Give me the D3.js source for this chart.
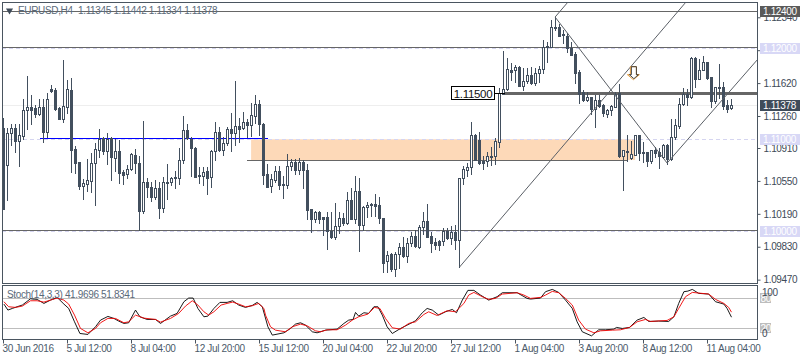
<!DOCTYPE html>
<html>
<head>
<meta charset="utf-8">
<script src="https://cdn.jsdelivr.net/npm/d3@7"></script>
<style>
html, body { margin: 0; padding: 0; background: #fff; overflow: hidden; }
text { font-family: "Liberation Sans", sans-serif; font-size: 10px; letter-spacing: -0.35px; }
</style>
</head>
<body>
<script>
//Candle values, one entry per H4 bar

const opens = [
1.11123,1.10718,1.11068,1.11123,1.10980,1.11035,1.11320,1.11352,1.11341,1.11276,
1.11352,1.11079,1.11549,1.11538,1.11341,1.11221,1.11352,1.11538,1.10893,1.10751,
1.10488,1.10510,1.10543,1.10740,1.10882,1.11013,1.10871,1.11013,1.10794,1.10871,
1.10641,1.10619,1.10674,1.10827,1.10740,1.10215,1.10532,1.10477,1.10368,1.10466,
1.10247,1.10521,1.10532,1.10587,1.10576,1.10773,1.11101,1.11002,1.10904,1.10609,
1.10598,1.10652,1.10587,1.10871,1.11079,1.10882,1.10958,1.11112,1.11068,1.11145,
1.11123,1.11188,1.11155,1.11254,1.11385,1.11166,1.10619,1.10488,1.10554,1.10652,
1.10499,1.10499,1.10707,1.10751,1.10663,1.10751,1.10663,1.10236,1.10127,1.10204,
1.10149,1.10149,1.09996,1.09930,1.10051,1.10138,1.10083,1.10335,1.10127,1.10433,
1.10062,1.10258,1.10280,1.10291,1.10280,1.10138,1.09668,1.09744,1.09580,1.09744,
1.09821,1.09722,1.09865,1.09941,1.09821,1.10040,1.10105,1.09941,1.09876,1.09887,
1.09887,1.09996,1.09919,1.09985,1.09898,1.10576,1.10663,1.10696,1.11046,1.10991,
1.10762,1.10762,1.10805,1.10816,1.10969,1.11495,1.11549,1.11757,1.11757,1.11790,
1.11582,1.11637,1.11703,1.11615,1.11724,1.11768,1.12009,1.12009,1.12217,1.12228,
1.12151,1.12129,1.11998,1.11932,1.11735,1.11516,1.11429,1.11462,1.11330,1.11429,
1.11374,1.11276,1.11320,1.11352,1.11506,1.10816,1.10871,1.10794,1.10827,1.11046,
1.10860,1.10860,1.10762,1.10882,1.10860,1.10805,1.10937,1.10784,1.11024,1.11145,
1.11385,1.11495,1.11462,1.11888,1.11659,1.11757,1.11845,1.11681,1.11418,1.11571,
1.11571,1.11374,1.11345];
const highs = [
1.11232,1.11123,1.11166,1.11166,1.11166,1.11440,1.11692,1.11484,1.11374,1.11440,
1.11440,1.11506,1.11593,1.11560,1.11352,1.11867,1.11648,1.11670,1.10926,1.10751,
1.10565,1.10784,1.10849,1.10958,1.11112,1.11024,1.11068,1.11024,1.11002,1.10991,
1.10663,1.10718,1.10849,1.10893,1.10816,1.11199,1.10576,1.10532,1.10554,1.10532,
1.10587,1.10729,1.10587,1.10652,1.10904,1.11254,1.11166,1.11024,1.10915,1.10696,
1.10696,1.10696,1.10882,1.11188,1.11134,1.11024,1.11134,1.11287,1.11637,1.11232,
1.11298,1.11221,1.11396,1.11484,1.11429,1.11177,1.10729,1.10619,1.10707,1.10707,
1.10598,1.10838,1.10784,1.10784,1.10794,1.10773,1.10729,1.10236,1.10215,1.10215,
1.10149,1.10204,1.10204,1.10302,1.10204,1.10193,1.10423,1.10466,1.10598,1.10576,
1.10269,1.10313,1.10302,1.10401,1.10368,1.10138,1.09777,1.09755,1.09766,1.09865,
1.09930,1.09919,1.09985,1.10007,1.10062,1.10204,1.10291,1.09985,1.09919,1.09898,
1.10029,1.10029,1.10051,1.10062,1.10576,1.10707,1.10740,1.11188,1.11057,1.11079,
1.10816,1.10860,1.10915,1.11013,1.11560,1.11965,1.11888,1.11834,1.11812,1.11801,
1.11779,1.11779,1.11790,1.11779,1.11801,1.12085,1.12063,1.12304,1.12337,1.12260,
1.12195,1.12162,1.12063,1.11954,1.11757,1.11538,1.11516,1.11462,1.11484,1.11484,
1.11385,1.11330,1.11374,1.11516,1.11604,1.10882,1.11046,1.10980,1.11046,1.11046,
1.10969,1.10860,1.10882,1.10915,1.10904,1.10948,1.10948,1.11221,1.11221,1.11451,
1.11560,1.11549,1.11899,1.11899,1.11877,1.11910,1.11845,1.11681,1.11571,1.11823,
1.11626,1.11429,1.11442];
const lows = [
1.10236,1.10335,1.10937,1.10860,1.10707,1.11002,1.11112,1.11166,1.11243,1.11265,
1.10969,1.11024,1.11516,1.11320,1.11221,1.11188,1.11287,1.10641,1.10630,1.10455,
1.10346,1.10433,1.10423,1.10280,1.10805,1.10838,1.10729,1.10554,1.10652,1.10521,
1.10510,1.10576,1.10663,1.10630,1.10007,1.10193,1.10368,1.10324,1.10346,1.10138,
1.10204,1.10346,1.10499,1.10466,1.10510,1.10740,1.11002,1.10598,1.10587,1.10521,
1.10499,1.10401,1.10477,1.10773,1.10871,1.10827,1.10937,1.10871,1.10937,1.10969,
1.11112,1.11024,1.11035,1.11177,1.11046,1.10510,1.10477,1.10423,1.10532,1.10455,
1.10357,1.10466,1.10663,1.10619,1.10619,1.10466,1.10127,1.09985,1.10094,1.10083,
1.09952,1.09799,1.09919,1.09908,1.09974,1.10062,1.10072,1.10127,1.10083,1.09777,
1.10007,1.10149,1.10160,1.10160,1.10083,1.09547,1.09547,1.09558,1.09504,1.09591,
1.09712,1.09657,1.09832,1.09821,1.09810,1.09963,1.09930,1.09766,1.09799,1.09788,
1.09843,1.09908,1.09854,1.09799,1.09602,1.10510,1.10598,1.10619,1.10773,1.10729,
1.10674,1.10707,1.10718,1.10729,1.10915,1.11495,1.11538,1.11648,1.11626,1.11582,
1.11538,1.11615,1.11604,1.11593,1.11626,1.11724,1.11845,1.12009,1.12195,1.12129,
1.12053,1.11954,1.11921,1.11615,1.11396,1.11418,1.11418,1.11276,1.11134,1.11352,
1.11254,1.11243,1.11265,1.11352,1.10805,1.10444,1.10762,1.10784,1.10827,1.10773,
1.10751,1.10707,1.10740,1.10805,1.10685,1.10794,1.10729,1.10773,1.11002,1.11123,
1.11374,1.11374,1.11451,1.11571,1.11659,1.11757,1.11659,1.11352,1.11396,1.11451,
1.11330,1.11298,1.11334];
const closes = [
1.10236,1.11068,1.11123,1.10980,1.11046,1.11320,1.11352,1.11320,1.11276,1.11352,
1.11079,1.11440,1.11527,1.11330,1.11221,1.11363,1.11549,1.10882,1.10740,1.10488,
1.10521,1.10554,1.10740,1.10893,1.11002,1.10871,1.11002,1.10805,1.10871,1.10630,
1.10609,1.10674,1.10838,1.10740,1.10215,1.10532,1.10477,1.10368,1.10466,1.10247,
1.10532,1.10532,1.10576,1.10576,1.10773,1.11101,1.11013,1.10904,1.10587,1.10598,
1.10641,1.10576,1.10871,1.11079,1.10882,1.10958,1.11112,1.11068,1.11145,1.11112,
1.11188,1.11155,1.11265,1.11385,1.11166,1.10609,1.10477,1.10565,1.10652,1.10499,
1.10510,1.10707,1.10751,1.10663,1.10751,1.10663,1.10226,1.10127,1.10204,1.10127,
1.10127,1.09996,1.09930,1.10051,1.10138,1.10083,1.10335,1.10127,1.10433,1.10062,
1.10258,1.10280,1.10291,1.10269,1.10138,1.09646,1.09733,1.09580,1.09744,1.09821,
1.09722,1.09865,1.09941,1.09832,1.10040,1.10105,1.09930,1.09865,1.09843,1.09843,
1.09996,1.09919,1.09985,1.09898,1.10576,1.10674,1.10696,1.11046,1.10773,1.10740,
1.10740,1.10816,1.10816,1.10980,1.11506,1.11549,1.11768,1.11735,1.11790,1.11582,
1.11637,1.11703,1.11615,1.11724,1.11768,1.12009,1.12020,1.12228,1.12228,1.12129,
1.12140,1.11998,1.11921,1.11724,1.11495,1.11429,1.11462,1.11330,1.11429,1.11363,
1.11287,1.11320,1.11363,1.11495,1.10816,1.10882,1.10860,1.10838,1.11046,1.10849,
1.10849,1.10762,1.10882,1.10849,1.10816,1.10937,1.10784,1.11024,1.11155,1.11385,
1.11495,1.11462,1.11888,1.11659,1.11757,1.11845,1.11670,1.11418,1.11571,1.11560,
1.11363,1.11330,1.11378];

//Stochastic readings, bar position and value of each point

const kBars = [0.1,1.1,2.2,3.4,4.7,6.75,8.4,10.1,11.75,13.4,15.1,16.3,17.75,19.1,21.1,23,24.25,26.1,27.6,28.8,30.1,31.3,33,34.1,35.9,38,39.25,41.75,43.4,45.1,46.3,47.4,48.6,50.1,51.1,52.6,54.1,55.9,57.3,58.8,60.5,62.2,63.4,64.7,66.1,67.2,70.1,71.75,73,74.25,75.5,77.2,78.4,80.5,83.4,85.1,86.3,87.4,88,88.8,90.1,91.3,92.6,93.6,94.7,95.9,97.2,99.25,100.9,103,104.7,105.9,107.2,108.8,110.5,112.2,113.25,114.7,116.1,117.6,119.25,121.3,123.4,124.7,128.4,130.9,131.75,134.25,135.5,137.2,138.8,140.5,142.2,143.4,144.7,147,148.8,150.5,152.6,153.25,154.7,156.5,158.4,160.1,161.3,163.8,166.3,167.6,168.8,170.1,171.1,172.2,173.8,176.3,178,180.1,180.9,182];
const kValues = [67.6,55.9,59.1,62.4,65.7,78,76.8,68.9,75.4,80.7,67.6,59.1,33,10.2,8.3,23.3,36.3,43.5,39.6,34.4,29.8,31.1,55.9,42.8,37.6,37.6,29.8,44.1,49.4,72.2,79.4,79.4,59.1,42.8,44.1,59.1,70.9,70.9,74.1,65.7,61.1,65,70.9,62.4,23.3,7,11.5,20,28.5,31.1,26.5,13.5,11.5,16.7,18.7,29.8,36.3,37.6,51.3,44.1,50.7,49.4,62.4,62.4,46.1,23.3,10.2,20,26.5,35,50.7,59.1,55.9,46.1,52.6,57.2,50.7,75.4,94.4,94.4,85.2,75.4,82,89.8,89.8,78.7,77.4,79.4,91.8,96.3,90.4,75.4,59.1,33,13.5,5.6,17.4,17.4,18.7,22,20,22,36.3,41.5,33.7,34.4,33.7,42.8,68.9,91.8,93,96.3,88.5,87.2,72.2,67.6,59.1,41.97];
const dBars = [0.1,1.3,3,4.7,6.75,8.4,10.1,11.75,13.4,15.1,16.3,17.75,19.25,21.1,23,24.25,26.1,28,30.1,31.3,33,35.1,38,39.25,41.75,43.8,45.5,47.2,48.6,50.1,51.3,52.6,54.4,55.9,57.3,58.8,60.5,62.2,63.8,65.1,65.5,66.75,68,70.5,72.2,74.25,75.9,78,79.25,80.9,83.4,85.5,87.2,88.8,91.1,92.75,94.1,95.5,97.2,99.25,101.3,103,105.1,106.3,108.4,110.9,113,115.1,116.3,117.6,119.7,121.3,123,124.7,128.4,130.1,131.75,134.25,135.5,137.2,138.8,140.5,142.2,143.8,145.5,147.6,149.25,152.2,154.25,156.5,158.4,160.5,161.75,165.9,167.6,168.8,170.5,172.2,176.3,178,180.1,181.3,182];
const dValues = [72.2,62.4,61.1,63.7,74.1,74.1,71.5,75.4,79.4,75.4,67.6,46.1,20,11.5,20,31.1,39.6,39.6,31.1,33,46.1,40.2,37.6,32.4,39.6,49.4,63.7,74.1,65.7,52.6,46.1,52.6,65.7,68.9,71.5,67.6,62.4,64.4,68.9,59.1,46.1,23.3,16.7,13.5,23.3,28.5,25.2,15.4,13.5,17.4,17.4,26.5,36.3,42.8,48,61.1,59.1,39.6,21.3,18.7,29.8,33,47.4,52.6,45.4,54.6,52.6,68.9,85.2,90.4,82,76.8,78.7,87.2,89.8,85.2,78.7,80.7,85.2,92.4,89.8,78.7,65.7,36.3,18.7,11.5,15.4,16.7,17.4,22,33,37.6,33.7,35.7,42.8,59.1,82,90.4,87.2,76.8,68.9,61.1,51.83];

//Axis labels

const dateBars = [0,16,32,48,64,80,96,112,128,144,160,176];
const dateLabels = ["30 Jun 2016","5 Jul 12:00","8 Jul 04:00","12 Jul 20:00","15 Jul 12:00","20 Jul 04:00","22 Jul 20:00","27 Jul 12:00","1 Aug 04:00","3 Aug 20:00","8 Aug 12:00","11 Aug 04:00"];
const priceTicks = [1.1234,1.1198,1.1162,1.1126,1.1091,1.1055,1.1019,1.0983,1.0947];

//Chart objects

const greyLevels = [1.124,1.12007,1.10007];
const roundLevels = [1.12,1.11,1.1];
const lastClose = 1.11378;
const supplyLevel = 1.11507;
const blueLevel = 1.11013;
const blueBars = [9.1,66];
const zoneTop = 1.11;
const zoneBottom = 1.10773;
const zoneBars = [61.9,157.9];
const zoneLineBars = [60.9,155.9];
const trendLines = [
  [114,1.09602,170.4,1.1249],
  [137.9,1.12337,140.9,1.1249],
  [137.9,1.12337,165.9,1.1074],
  [165.9,1.1074,188.4,1.11867]
];
const arrowBar = 157.6;
const arrowPrice = 1.11734;

//Set Dimensions

const W = 800, H = 360;
const plotLeft = 2, plotRight = 757, plotTop = 2, mainBottom = 283, subTop = 285, subBottom = 339;
const dark = "#424f5e";

var svg = d3.select("body").append("svg")
  .attr("width", W)
  .attr("height", H)
  .style("display", "block");

const x = d3.scaleLinear().domain([0,182]).range([3.5,731.5]);
const y = d3.scaleLinear().domain([1.1,1.124]).range([230.7,11.3]);
const yStoch = d3.scaleLinear().domain([0,100]).range([338.7,287.5]);

const row = p => Math.round(y(p));

function hline(p, x1, x2, color, width, dash) {
  return svg.append("line")
    .attr("x1", x1).attr("x2", x2)
    .attr("y1", row(p) + 0.5).attr("y2", row(p) + 0.5)
    .attr("stroke", color)
    .attr("stroke-width", width)
    .attr("stroke-dasharray", dash || null)
    .attr("shape-rendering", "crispEdges");
}

//Zone and levels, underneath the candles

svg.append("rect")
  .attr("x", x(zoneBars[0]))
  .attr("y", y(zoneTop))
  .attr("width", x(zoneBars[1]) - x(zoneBars[0]))
  .attr("height", y(zoneBottom) - y(zoneTop))
  .attr("fill", "#fdd9b8");

hline(lastClose, plotLeft, plotRight, "#eeeeee", 1);
roundLevels.forEach(p => hline(p, plotLeft, plotRight, "#d5d5f0", 1, "4,3"));
greyLevels.forEach(p => hline(p, plotLeft, plotRight, "#666666", 1));
hline(zoneBottom, x(zoneLineBars[0]), x(zoneLineBars[1]), "#666666", 1);
hline(blueLevel, x(blueBars[0]), x(blueBars[1]), "#0000ff", 1.5);
hline(supplyLevel, 505, plotRight, "#666666", 2.5);

//Candles

const bars = d3.range(opens.length);

svg.append("g").selectAll("line")
  .data(bars)
  .join("line")
  .attr("x1", d => x(d)).attr("x2", d => x(d))
  .attr("y1", d => row(highs[d]))
  .attr("y2", d => row(lows[d]) + 1)
  .attr("stroke", dark)
  .attr("shape-rendering", "crispEdges");

svg.append("g").selectAll("rect")
  .data(bars)
  .join("rect")
  .attr("x", d => x(d) - 1)
  .attr("y", d => row(Math.max(opens[d], closes[d])) + 0.5)
  .attr("width", 2)
  .attr("height", d => Math.max(1, row(Math.min(opens[d], closes[d])) - row(Math.max(opens[d], closes[d]))))
  .attr("fill", d => closes[d] > opens[d] ? "#fff" : dark)
  .attr("stroke", dark)
  .attr("shape-rendering", "crispEdges");

//Channel lines

svg.append("g").selectAll("line")
  .data(trendLines)
  .join("line")
  .attr("x1", d => x(d[0])).attr("y1", d => y(d[1]))
  .attr("x2", d => x(d[2])).attr("y2", d => y(d[3]))
  .attr("stroke", "#5a5f66")
  .attr("stroke-width", 1);

//Sell arrow

svg.append("path")
  .attr("transform", `translate(${x(arrowBar) - 0.5},${y(arrowPrice) + 0.5})`)
  .attr("d", "M-3,-6H3V2H6L0,7L-6,2H-3Z")
  .attr("fill", "#fff")
  .attr("stroke", "#e8a040")
  .attr("stroke-width", 1);
svg.append("path")
  .attr("transform", `translate(${x(arrowBar)},${y(arrowPrice)})`)
  .attr("d", "M-2.5,-5.5H2.5V2.5H4.5L0,6.5L-4.5,2.5H-2.5Z")
  .attr("fill", "none")
  .attr("stroke", "#333")
  .attr("stroke-width", 0.9);

//Price label

hline(supplyLevel, 494, 505, "#000", 1);
svg.append("rect")
  .attr("x", 451.5).attr("y", row(supplyLevel) - 6.5)
  .attr("width", 43).attr("height", 13)
  .attr("fill", "#fff").attr("stroke", "#000");
svg.append("text")
  .attr("x", 473).attr("y", row(supplyLevel) + 4.5)
  .attr("text-anchor", "middle")
  .style("font-size", "11.5px")
  .style("letter-spacing", "-0.3px")
  .attr("fill", "#111")
  .text("1.11500");

//Stochastic panel

[80,20].forEach(v => {
  svg.append("line")
    .attr("x1", plotLeft).attr("x2", plotRight)
    .attr("y1", Math.round(yStoch(v)) + 0.5).attr("y2", Math.round(yStoch(v)) + 0.5)
    .attr("stroke", "#bdbdbd")
    .attr("shape-rendering", "crispEdges");
});

const kPoints = kBars.map((b,i) => [b, kValues[i]]);
const dPoints = dBars.map((b,i) => [b, dValues[i]]);
const stochLine = d3.line().x(d => x(d[0])).y(d => yStoch(d[1]));

svg.append("path").attr("d", stochLine(kPoints))
  .attr("fill", "none").attr("stroke", "#000").attr("stroke-width", 0.9);
svg.append("path").attr("d", stochLine(dPoints))
  .attr("fill", "none").attr("stroke", "#f00000").attr("stroke-width", 0.9);

//Frames

svg.append("path")
  .attr("d", `M${plotLeft+0.5},${plotTop+0.5}H${plotRight+0.5}V${mainBottom+0.5}H${plotLeft+0.5}Z`
    + `M${plotLeft+0.5},${subTop+0.5}H${plotRight+0.5}V${subBottom+0.5}H${plotLeft+0.5}Z`)
  .attr("fill", "none")
  .attr("stroke", "#4a5560")
  .attr("shape-rendering", "crispEdges");

//Price axis

svg.append("g")
  .attr("transform", `translate(${plotRight+0.5},0.5)`)
  .call(d3.axisRight(y).tickValues(priceTicks).tickSize(3).tickPadding(3).tickFormat(d3.format(".5f")))
  .call(g => g.select(".domain").remove())
  .call(g => g.selectAll("line").attr("stroke", "#4a5560"))
  .call(g => g.selectAll("text").attr("fill", "#3e4a58").attr("font-family", null).attr("font-size", null));
svg.selectAll("g.tick text").style("font-size", "10px");

//Date axis

const xDates = d3.axisBottom(x)
  .tickValues(dateBars)
  .tickSize(4)
  .tickPadding(1)
  .tickFormat((d,i) => dateLabels[i]);

svg.append("g")
  .attr("transform", `translate(-0.5,${subBottom+0.5})`)
  .call(xDates)
  .call(g => g.select(".domain").remove())
  .call(g => g.selectAll("line").attr("stroke", "#4a5560"))
  .call(g => g.selectAll("text")
    .attr("text-anchor", "start")
    .attr("x", -1)
    .attr("fill", "#4b5a6a")
    .attr("font-family", null)
    .style("font-size", "10px"));

//Price tags

const tagPrices = [1.12,1.11,1.1,1.124,lastClose];
const tagColors = ["#d8d8f6","#d8d8f6","#d8d8f6","#5a5a5a","#3f4c5a"];

svg.append("g").selectAll("rect")
  .data(tagPrices)
  .join("rect")
  .attr("x", 760).attr("width", 40)
  .attr("y", d => row(d) - 5).attr("height", 11)
  .attr("fill", (d,i) => tagColors[i]);
svg.append("g").selectAll("text")
  .data(tagPrices)
  .join("text")
  .attr("x", 763)
  .attr("y", d => row(d) + 4)
  .attr("fill", "#fff")
  .text(d => d3.format(".5f")(d));

//Stochastic scale labels

const stochTags = [80,20];
const stochTagLabels = ["80","20"];
svg.append("g").selectAll("rect")
  .data(stochTags)
  .join("rect")
  .attr("x", 760).attr("width", 11)
  .attr("y", d => Math.round(yStoch(d)) - 5).attr("height", 10)
  .attr("fill", "#bdbdbd");
svg.append("g").selectAll("text")
  .data(stochTags)
  .join("text")
  .attr("x", 760.5)
  .attr("y", d => Math.round(yStoch(d)) + 3.5)
  .attr("fill", "#fff")
  .text((d,i) => stochTagLabels[i]);
svg.append("text").attr("x", 762).attr("y", 296).attr("fill", "#3e4a58").text("100");
svg.append("text").attr("x", 762).attr("y", 336.5).attr("fill", "#3e4a58").text("0");

//Titles

svg.append("path")
  .attr("d", d3.symbol(d3.symbolTriangle, 22)())
  .attr("transform", "translate(9.5,10.5) rotate(180)")
  .attr("fill", "#3e4a58");
svg.append("text").attr("x", 18).attr("y", 14).attr("fill", "#5a6a7a").text("EURUSD,H4");
svg.append("text").attr("x", 78).attr("y", 14).attr("fill", "#5a6a7a").text("1.11345 1.11442 1.11334 1.11378");
svg.append("text").attr("x", 7).attr("y", 298).attr("fill", "#5a6a7a").text("Stoch(14,3,3) 41.9696 51.8341");
</script>
</body>
</html>
